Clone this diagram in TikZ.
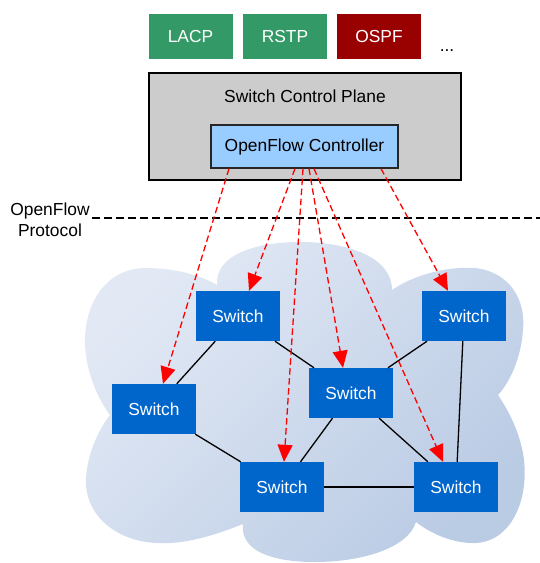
\documentclass[tikz,border=0pt]{standalone}
\usepackage{fontspec}
\setmainfont{Liberation Sans}
\usetikzlibrary{arrows.meta,calc}

\definecolor{protogreen}{HTML}{339966}
\definecolor{protored}{HTML}{990000}
\definecolor{planegray}{HTML}{CCCCCC}
\definecolor{ctrlblue}{HTML}{99CCFF}
\definecolor{switchblue}{HTML}{0066CC}
\definecolor{cloudlight}{HTML}{E2E9F5}
\definecolor{clouddark}{HTML}{BACBE4}

\tikzset{
  txt/.style={font=\fontsize{17.4}{21}\selectfont},
  protobox/.style={txt, text=white, minimum width=84pt, minimum height=45pt, inner sep=0pt},
  switchbox/.style={txt, fill=switchblue, text=white, minimum width=84pt, minimum height=50pt, inner sep=0pt},
  link/.style={black, line width=1.3pt},
  ofmsg/.style={red, line width=1.3pt, dash pattern=on 6.5pt off 3.5pt,
    -{Triangle[length=17pt,width=15pt]}},
}

\begin{document}
\begin{tikzpicture}[x=1pt,y=-1pt]
\useasboundingbox (0,0) rectangle (540,563);

% network cloud
\shade[top color=cloudlight, bottom color=clouddark, shading angle=45]
  (217,285) .. controls (215,255) and (255,242) .. (300,242)
  .. controls (350,242) and (392,258) .. (392,290)
  .. controls (412,276) and (445,266) .. (475,268)
  .. controls (510,272) and (526,300) .. (523,330)
  .. controls (521,358) and (510,382) .. (498,395)
  .. controls (515,420) and (528,452) .. (524,485)
  .. controls (520,520) and (500,545) .. (470,543)
  .. controls (450,542) and (430,533) .. (416,522)
  .. controls (408,548) and (362,562) .. (315,562)
  .. controls (270,562) and (240,550) .. (243,524)
  .. controls (215,535) and (185,545) .. (155,543)
  .. controls (112,540) and (84,512) .. (86,478)
  .. controls (88,450) and (100,428) .. (110,415)
  .. controls (95,395) and (84,365) .. (85,337)
  .. controls (87,295) and (112,268) .. (145,268)
  .. controls (175,268) and (200,275) .. (217,285) -- cycle;

% protocol applications
\node[protobox, fill=protogreen] (lacp) at (190.5,36.5) {LACP};
\node[protobox, fill=protogreen] (rstp) at (285,36.5) {RSTP};
\node[protobox, fill=protored]   (ospf) at (379,36.5) {OSPF};
\node[txt, anchor=base] (dots) at (447,51) {...};

% control plane and controller
\node[draw=black, line width=1.3pt, fill=planegray, minimum width=312pt, minimum height=107pt,
  inner sep=0pt] (cp) at (305,126.5) {};
\node[txt, anchor=base] (cptitle) at (305,102) {Switch Control Plane};
\node[txt, draw=black!85, line width=1.3pt, fill=ctrlblue, minimum width=187pt, minimum height=43pt,
  inner sep=0pt] (ofc) at (304.5,146.5) {OpenFlow Controller};

% protocol boundary
\node[txt, align=center] (proto) at (50,220) {OpenFlow\\Protocol};
\coordinate (bl) at (92,218);
\coordinate (br) at (540,218);
\draw[black, line width=1.4pt, dash pattern=on 8pt off 4pt] (bl) -- (br);

% switches
\node[switchbox] (s1) at (238,316) {Switch};
\node[switchbox] (s2) at (154,409) {Switch};
\node[switchbox] (s3) at (351,393) {Switch};
\node[switchbox] (s4) at (464,316) {Switch};
\node[switchbox] (s5) at (282,487) {Switch};
\node[switchbox] (s6) at (456,487) {Switch};

% physical links
\draw[link] (s1) -- (s2);
\draw[link] (s1) -- (s3);
\draw[link] (s2) -- (s5);
\draw[link] (s3) -- (s5);
\draw[link] (s3) -- (s4);
\draw[link] (s3) -- (s6);
\draw[link] (s5) -- (s6);
\draw[link] (s4) -- (s6);

% controller-to-switch messages
\coordinate (o1) at ([xshift=-75.5pt]ofc.south);
\coordinate (o2) at ([xshift=-9.5pt]ofc.south);
\coordinate (o3) at ([xshift=-1.5pt]ofc.south);
\coordinate (o4) at ([xshift=4.5pt]ofc.south);
\coordinate (o5) at ([xshift=9.5pt]ofc.south);
\coordinate (o6) at ([xshift=76.5pt]ofc.south);
\draw[ofmsg] (o1) -- ([xshift=9pt]s2.north);
\draw[ofmsg] (o2) -- ([xshift=11pt]s1.north);
\draw[ofmsg] (o3) -- ([xshift=2pt]s5.north);
\draw[ofmsg] (o4) -- ([xshift=-8pt]s3.north);
\draw[ofmsg] (o5) -- ([xshift=-13pt]s6.north);
\draw[ofmsg] (o6) -- ([xshift=-16pt]s4.north);
\end{tikzpicture}
\end{document}
